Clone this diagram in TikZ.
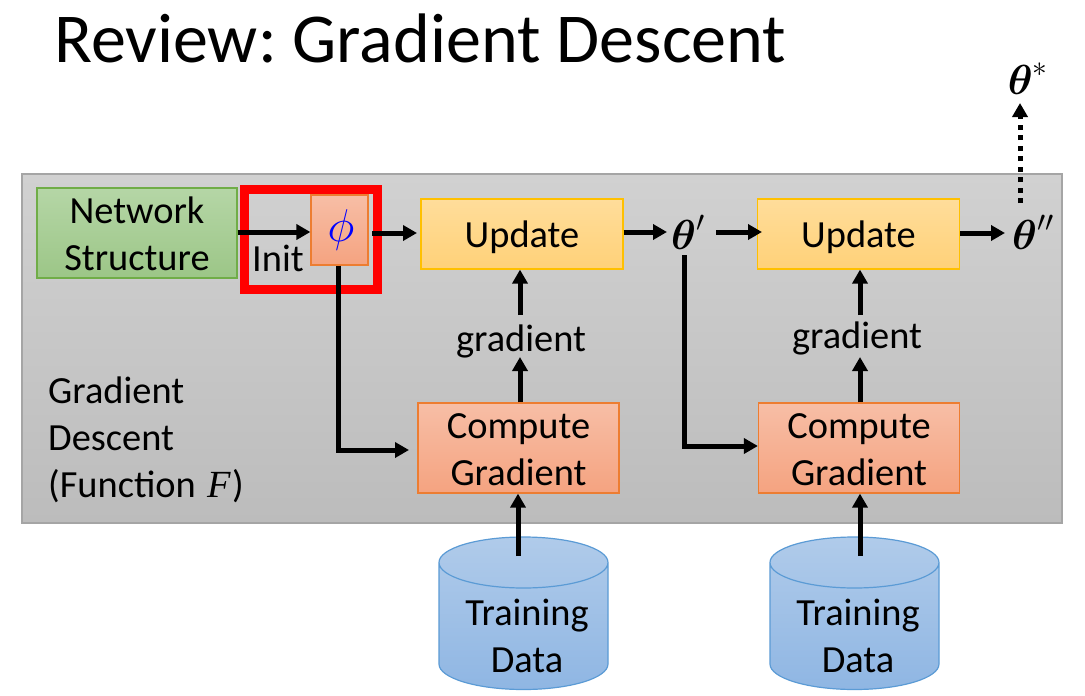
\RequirePackage{fix-cm}
\documentclass[tikz,border=0pt]{standalone}
\usepackage{fontspec}
\usepackage{amsmath}
\setmainfont{Carlito}
\newfontfamily\mathlike{Liberation Serif}
\usetikzlibrary{arrows.meta,calc}
\definecolor{panelbd}{HTML}{A5A5A5}
\definecolor{paneltop}{HTML}{D1D1D1}
\definecolor{panelbot}{HTML}{BCBCBC}
\definecolor{greenbd}{HTML}{70AD47}
\definecolor{greentop}{HTML}{B5D6A6}
\definecolor{greenbot}{HTML}{9CC687}
\definecolor{orangebd}{HTML}{ED7D31}
\definecolor{orangetop}{HTML}{F7BEA6}
\definecolor{orangebot}{HTML}{F5A380}
\definecolor{yellowbd}{HTML}{FFC000}
\definecolor{yellowtop}{HTML}{FFDD9B}
\definecolor{yellowbot}{HTML}{FFD178}
\definecolor{bluebd}{HTML}{5B9BD5}
\definecolor{bluetop}{HTML}{B0CBEA}
\definecolor{bluebot}{HTML}{8FB6E3}
\newcommand{\lowr}[2]{\raisebox{-#1}[\height][\depth]{#2}}
\tikzset{
 x=1pt,y=-1pt,
 txt/.style={font=\fontsize{38.4}{47}\selectfont,align=center,inner sep=0pt,text=black},
 lefttxt/.style={font=\fontsize{38.4}{47}\selectfont,align=left,inner sep=0pt,text=black},
 thetanode/.style={font=\fontsize{42}{46}\selectfont,inner sep=0pt,text=black},
 box/.style={txt,rectangle,draw,line width=1.2pt},
 greenbox/.style={box,draw=greenbd,top color=greentop,bottom color=greenbot},
 orangebox/.style={box,draw=orangebd,top color=orangetop,bottom color=orangebot},
 yellowbox/.style={box,draw=yellowbd,top color=yellowtop,bottom color=yellowbot},
 panel/.style={draw=panelbd,line width=1.5pt,top color=paneltop,bottom color=panelbot},
 arr/.style={line width=5pt,-{Triangle[length=14pt,width=15pt]}},
 dots/.style={line width=5pt,dash pattern=on 5pt off 5.5pt,-{Triangle[length=14pt,width=15pt]}},
 cyl/.style={draw=bluebd,line width=1.2pt},
 cylfill/.style={top color=bluetop,bottom color=bluebot},
}
\newcommand{\datacyl}[1]{%
 \path[cylfill] (#1-84.5,562.5) -- (#1-84.5,664) arc[x radius=84.5,y radius=25.5,start angle=180,end angle=0] -- (#1+84.5,562.5) arc[x radius=84.5,y radius=25.5,start angle=0,end angle=-180] -- cycle;
 \draw[cyl] (#1-84.5,562.5) -- (#1-84.5,664) arc[x radius=84.5,y radius=25.5,start angle=180,end angle=0] -- (#1+84.5,562.5) arc[x radius=84.5,y radius=25.5,start angle=0,end angle=360] ;
}
\begin{document}
\frenchspacing
\begin{tikzpicture}
\useasboundingbox (0,0) rectangle (1085,696);
\fill[white] (0,0) rectangle (1085,696);
\node[anchor=base west,inner sep=0pt,font=\fontsize{70.1}{72}\selectfont] (title) at (54,62) {Review: Gradient Descent};
\draw[panel] (22,174) rectangle (1062,523);
\node[greenbox,minimum width=200pt,minimum height=90pt] (net) at (137,233) {\lowr{1pt}{Network}\\\lowr{1pt}{Structure}};
\node[orangebox,minimum width=57pt,minimum height=70pt,font=\fontsize{46}{46}\selectfont,text=blue] (phi) at (339.5,230) {\hspace*{3pt}$\phi$};
\node[yellowbox,minimum width=202pt,minimum height=70pt] (up1) at (522,234) {\lowr{3pt}{Update}};
\node[yellowbox,minimum width=202pt,minimum height=70pt] (up2) at (858.5,234) {\lowr{3pt}{Update}};
\node[orangebox,minimum width=201pt,minimum height=90pt] (cg1) at (518.5,448) {\lowr{2pt}{Compute}\\\lowr{2pt}{Gradient}};
\node[orangebox,minimum width=201pt,minimum height=90pt] (cg2) at (859,448) {\lowr{2pt}{Compute}\\\lowr{2pt}{Gradient}};
\node[txt] (g1) at (521,341) {gradient};
\node[txt] (g2) at (857,338) {gradient};
\node[txt] (init) at (278,258.5) {Init};
\node[lefttxt,anchor=west] (gd) at (48,440) {Gradient\\Descent\\(Function\hspace{3pt} {\mathlike\itshape F}\hspace{1pt})};
\node[thetanode] (tp) at (688,232) {$\boldsymbol{\theta}'$};
\node[thetanode] (tpp) at (1033,232) {$\boldsymbol{\theta}''$};
\node[thetanode] (ts) at (1028,79) {$\boldsymbol{\theta}^{*}$};
\draw[red,line width=9pt] (244.8,189.5) rectangle (377.2,289.5);
% data cylinders
\datacyl{523.5}
\datacyl{854.5}
\node[txt] (d1) at (527,636) {Training\\Data};
\node[txt] (d2) at (858,636) {Training\\Data};
% connector free ends
\coordinate (d1t) at (518,556);
\coordinate (d2t) at (860,556);
\coordinate (g1a) at (520,315);
\coordinate (g1b) at (520,357);
\coordinate (g2a) at (860,315);
\coordinate (g2b) at (860,357);
\coordinate (phiout) at (372,233);
\coordinate (up1in) at (417,233);
\coordinate (tpin) at (667,232);
\coordinate (tpout) at (716,232);
\coordinate (up2in) at (762,232);
\coordinate (tppin) at (1005,233);
\coordinate (tppup) at (1020,203);
\coordinate (tsin) at (1020,103);
\coordinate (tpdown) at (684.5,255);
\coordinate (tpbend) at (684.5,446);
\coordinate (phibend) at (338.5,450);
% connectors
\draw[arr] (net.east |- 0,232) -- (phi.west |- 0,232);
\draw[arr] (phiout) -- (up1in);
\draw[arr] (up1.east |- tpin) -- (tpin);
\draw[arr] (tpout) -- (up2in);
\draw[arr] (up2.east |- tppin) -- (tppin);
\draw[dots] (tppup) -- (tsin);
\draw[arr] (g1a) -- (up1.south -| g1a);
\draw[arr] (cg1.north -| g1b) -- (g1b);
\draw[arr] (g2a) -- (up2.south -| g2a);
\draw[arr] (cg2.north -| g2b) -- (g2b);
\draw[arr] (d1t) -- (cg1.south -| d1t);
\draw[arr] (d2t) -- (cg2.south -| d2t);
\draw[arr] (phi.south -| phibend) -- (phibend) -- (409,450);
\draw[arr] (tpdown) -- (tpbend) -- (cg2.west |- tpbend);
\end{tikzpicture}
\end{document}
